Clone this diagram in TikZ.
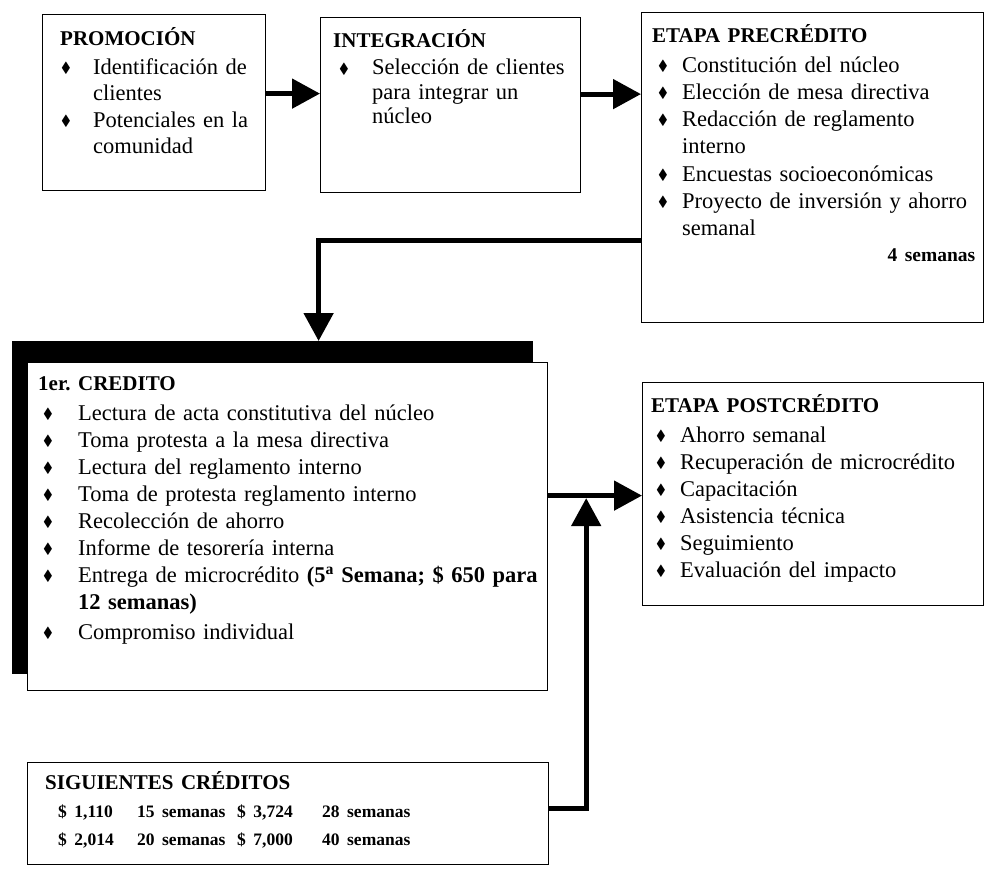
\documentclass[tikz,border=0pt]{standalone}
\usepackage{amssymb}
\usepackage{graphicx}
\usepackage{fontspec}
\setmainfont{Liberation Serif}
\usetikzlibrary{arrows.meta}
\newlength{\itmind}\newlength{\itmoff}
\newcommand{\bodyf}[1][27]{\fontsize{22.5}{#1}\selectfont}
\newcommand{\setitm}[2]{\setlength{\itmind}{#1}\setlength{\itmoff}{#2}}
\newcommand{\dia}{\raisebox{0.1ex}{\scalebox{0.65}{$\blacklozenge$}}}
\newcommand{\hd}[1]{\noindent{\fontsize{21}{27}\selectfont\bfseries #1\par}\vspace{3pt}}
\newcommand{\itm}[1]{\par\noindent\makebox[\itmind][l]{\hspace{\itmoff}\dia}%
  \begin{tabular}[t]{@{}l@{}}#1\end{tabular}\par}
\newcommand{\sigrow}[4]{\par\noindent{\fontsize{17.5}{28}\selectfont\bfseries\hspace{13pt}%
  \makebox[79pt][l]{#1}\makebox[100pt][l]{#2}\makebox[85pt][l]{#3}#4\par}}

\begin{document}
\begin{tikzpicture}[x=1pt,y=-1pt,
  box/.style={draw,line width=1.2pt,anchor=north west,inner sep=0pt,fill=white},
  txt/.style={anchor=base west,inner sep=0pt,text width=#1},
  txt/.default=500pt,
  flow/.style={line width=5pt,-{Triangle[length=28pt,width=29pt]}}]
\useasboundingbox (0,0) rectangle (985,870);

\node[box,minimum width=223pt,minimum height=176pt] (promo) at (42,14) {};
\node[box,minimum width=260pt,minimum height=175pt] (integ) at (320,17) {};
\node[box,minimum width=342pt,minimum height=310pt] (pre) at (641,12) {};
\node[box,fill=black,minimum width=520pt,minimum height=332pt] (cred-s) at (12,341) {};
\node[box,minimum width=520pt,minimum height=328pt] (cred) at (27,362) {};
\node[box,minimum width=341pt,minimum height=223pt] (post) at (642,382) {};
\node[box,minimum width=521pt,minimum height=102pt] (sig) at (27,762) {};

\node[txt,font={\bodyf[26]\setitm{33pt}{1pt}}] (promo-t) at (60,45)
  {\hd{PROMOCIÓN}\itm{Identificación de\\clientes}\itm{Potenciales en la\\comunidad}};
\node[txt,font={\bodyf[24.5]\setitm{39pt}{6pt}}] (integ-t) at (333,47)
  {\hd{INTEGRACIÓN}\itm{Selección de clientes\\para integrar un\\núcleo}};
\node[txt=323pt,font=\bodyf\setitm{30pt}{6pt}] (pre-t) at (652,42)
  {\hd{ETAPA PRECRÉDITO}\itm{Constitución del núcleo}\itm{Elección de mesa directiva}
   \itm{Redacción de reglamento\\interno}\itm{Encuestas socioeconómicas}
   \itm{Proyecto de inversión y ahorro\\semanal}\vspace{5pt}
   \noindent\hfill{\fontsize{19.5}{27}\selectfont\bfseries 4 semanas}\par};
\node[txt,font=\bodyf\setitm{40pt}{5pt}] (cred-t) at (38,390)
  {\hd{1er.\ CREDITO}\itm{Lectura de acta constitutiva del núcleo}\itm{Toma protesta a la mesa directiva}
   \itm{Lectura del reglamento interno}\itm{Toma de protesta reglamento interno}
   \itm{Recolección de ahorro}\itm{Informe de tesorería interna}
   \itm{Entrega de microcrédito \textbf{(5\textsuperscript{a} Semana; \$ 650 para}\\\textbf{12 semanas)}}
   \vspace{2pt}\itm{Compromiso individual}};
\node[txt,font=\bodyf\setitm{29pt}{5pt}] (post-t) at (651,412)
  {\hd{ETAPA POSTCRÉDITO}\itm{Ahorro semanal}\itm{Recuperación de microcrédito}\itm{Capacitación}
   \itm{Asistencia técnica}\itm{Seguimiento}\itm{Evaluación del impacto}};
\node[txt,font=\bodyf] (sig-t) at (45,789)
  {\noindent{\fontsize{21}{28}\selectfont\bfseries SIGUIENTES CRÉDITOS\par}
   \sigrow{\$ 1,110}{15 semanas}{\$ 3,724}{28 semanas}
   \sigrow{\$ 2,014}{20 semanas}{\$ 7,000}{40 semanas}};

\coordinate (a1) at ([yshift=9pt]promo.east);
\coordinate (a2) at ([yshift=11pt]integ.east);
\coordinate (a3) at ([yshift=-73pt]pre.west);
\coordinate (a4) at ([yshift=31pt]cred.east);
\coordinate (a5) at ([yshift=5pt]sig.east);
\coordinate (j) at ([xshift=38pt]a4);
\draw[flow] (a1) -- (a1 -| integ.west);
\draw[flow] (a2) -- (a2 -| pre.west);
\draw[flow] (a3) -| ([xshift=46pt]cred-s.north);
\draw[flow] (a4) -- (a4 -| post.west);
\draw[flow,shorten >=2.5pt] (a5) -| (j);
\end{tikzpicture}
\end{document}
